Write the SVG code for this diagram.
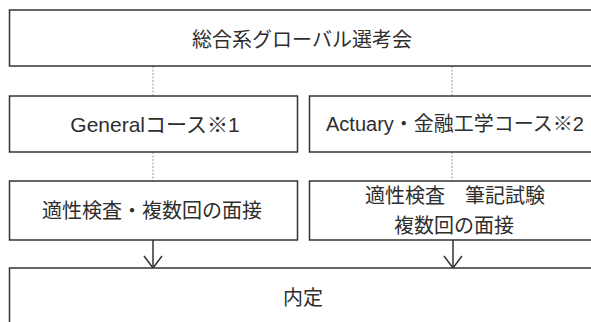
<svg xmlns="http://www.w3.org/2000/svg" width="591" height="322" viewBox="0 0 591 322">
  <style>
    .box { fill: #ffffff; stroke: #333333; stroke-width: 1.5; }
    .label { font-family: "Liberation Sans", "Noto Sans CJK JP", sans-serif; font-size: 20px; fill: #2e2e2e; text-anchor: middle; dominant-baseline: central; }
    .link { stroke: #9a9a9a; stroke-width: 1; stroke-dasharray: 2 1.5; fill: none; }
    .arrow { stroke: #333333; stroke-width: 1.5; fill: none; marker-end: url(#vhead); }
  </style>
  <defs>
    <marker id="vhead" markerUnits="userSpaceOnUse" markerWidth="30" markerHeight="30" viewBox="-15 -15 30 30" refX="0" refY="0" orient="auto" overflow="visible">
      <path d="M-12,-9 L0,0 L-12,9" fill="none" stroke="#333333" stroke-width="1.5"/>
    </marker>
  </defs>
  <rect width="591" height="322" fill="#ffffff"/>

  <g id="connectors">
    <line class="link" x1="153" y1="66" x2="153" y2="96"/>
    <line class="link" x1="452" y1="66" x2="452" y2="96"/>
    <line class="link" x1="153" y1="152" x2="153" y2="181"/>
    <line class="link" x1="452" y1="152" x2="452" y2="181"/>
    <line class="arrow" x1="153" y1="240" x2="153" y2="268"/>
    <line class="arrow" x1="453" y1="240" x2="453" y2="268"/>
  </g>

  <g id="node-senkokai">
    <rect class="box" x="9.5" y="10" width="600" height="56"/>
    <text class="label" x="302" y="40">総合系グローバル選考会</text>
  </g>

  <g id="node-general">
    <rect class="box" x="9.5" y="96" width="288" height="56"/>
    <text class="label" x="155" y="124" style="font-size:21px">Generalコース※1</text>
  </g>

  <g id="node-actuary">
    <rect class="box" x="309.5" y="96" width="300" height="56"/>
    <text class="label" x="455" y="124">Actuary・金融工学コース※2</text>
  </g>

  <g id="node-general-exam">
    <rect class="box" x="9.5" y="181" width="288" height="59"/>
    <text class="label" x="152" y="211">適性検査・複数回の面接</text>
  </g>

  <g id="node-actuary-exam">
    <rect class="box" x="309.5" y="181" width="300" height="59"/>
    <text class="label" x="455" y="196">適性検査　筆記試験</text>
    <text class="label" x="454" y="226">複数回の面接</text>
  </g>

  <g id="node-naitei">
    <rect class="box" x="9.5" y="268" width="600" height="80"/>
    <text class="label" x="303" y="298">内定</text>
  </g>
</svg>
